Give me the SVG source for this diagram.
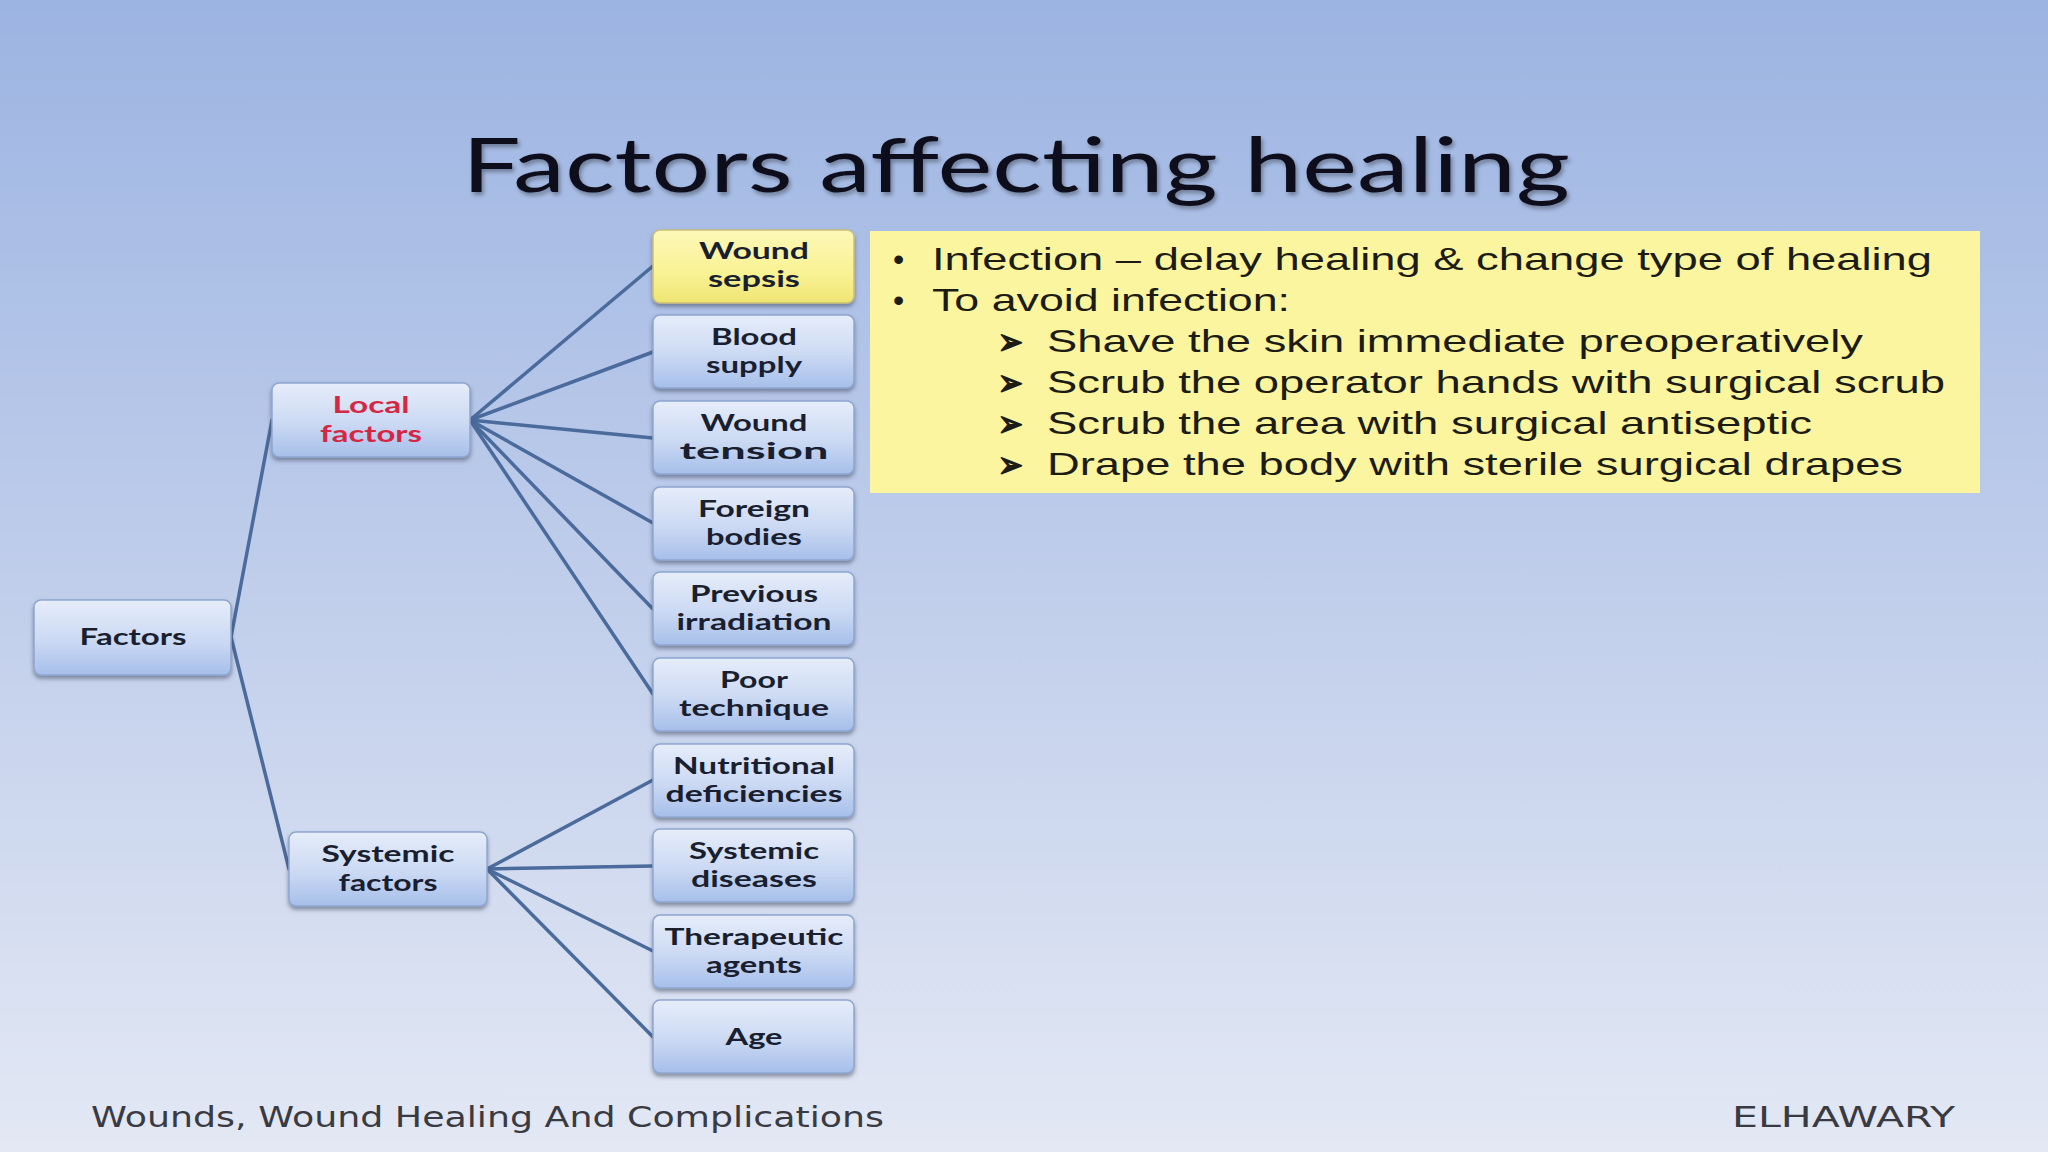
<svg xmlns="http://www.w3.org/2000/svg" width="2048" height="1152" viewBox="0 0 2048 1152">
  <defs>
    <linearGradient id="bg" x1="0" y1="0" x2="0" y2="1">
      <stop offset="0" stop-color="#9cb4e2"/>
      <stop offset="0.45" stop-color="#bccbea"/>
      <stop offset="1" stop-color="#e3e8f4"/>
    </linearGradient>
    <linearGradient id="blueNode" x1="0" y1="0" x2="0" y2="1">
      <stop offset="0" stop-color="#e6edfa"/>
      <stop offset="0.55" stop-color="#cbd9f3"/>
      <stop offset="1" stop-color="#a6bfea"/>
    </linearGradient>
    <linearGradient id="yellowNode" x1="0" y1="0" x2="0" y2="1">
      <stop offset="0" stop-color="#fcf8b8"/>
      <stop offset="0.6" stop-color="#f9f294"/>
      <stop offset="1" stop-color="#efe472"/>
    </linearGradient>
    <filter id="shadow" x="-10%" y="-10%" width="120%" height="130%">
      <feDropShadow dx="0" dy="3" stdDeviation="2" flood-color="#3c4660" flood-opacity="0.55"/>
    </filter>
    <filter id="tshadow" x="-5%" y="-20%" width="110%" height="140%">
      <feDropShadow dx="2" dy="3" stdDeviation="2" flood-color="#000000" flood-opacity="0.35"/>
    </filter>
  </defs>
  <style>
    .node rect { stroke: #8ea6cf; stroke-width: 1.5; filter: url(#shadow); }
    .blue rect { fill: url(#blueNode); }
    .yel rect { fill: url(#yellowNode); stroke: #c9c07a; }
    .node text { font-family: Lato, "Open Sans", "Liberation Sans", sans-serif; font-weight: bold; font-size: 22px; fill: #1a1f30; text-anchor: middle; }
    .node text.red { fill: #d52744; }
    .conn line { stroke: #4a6b9b; stroke-width: 3.5; stroke-linecap: round; }
    .body { font-family: "Liberation Sans", Arial, sans-serif; font-size: 32px; fill: #1c1c14; }
    .arrow { font-family: "DejaVu Sans", sans-serif; font-size: 36px; fill: #1c1c14; stroke: #1c1c14; stroke-width: 1.6; stroke-linejoin: round; }
    .foot { font-family: "DejaVu Sans", sans-serif; font-size: 29px; fill: #3a3b42; }
  </style>

  <rect x="0" y="0" width="2048" height="1152" fill="url(#bg)"/>

  <text id="title" x="462" y="192" font-family="Lato, 'Open Sans', 'Liberation Sans', sans-serif" font-size="75" fill="#0e0f1c" textLength="1108" lengthAdjust="spacingAndGlyphs" filter="url(#tshadow)">Factors affecting healing</text>

  <g id="connectors" class="conn">
    <line x1="231" y1="637" x2="272" y2="420"/>
    <line x1="231" y1="637" x2="289" y2="869"/>
    <line x1="470" y1="420" x2="653" y2="266"/>
    <line x1="470" y1="420" x2="653" y2="352"/>
    <line x1="470" y1="420" x2="653" y2="438"/>
    <line x1="470" y1="420" x2="653" y2="523"/>
    <line x1="470" y1="420" x2="653" y2="609"/>
    <line x1="470" y1="420" x2="653" y2="694"/>
    <line x1="487" y1="869" x2="653" y2="780"/>
    <line x1="487" y1="869" x2="653" y2="866"/>
    <line x1="487" y1="869" x2="653" y2="951"/>
    <line x1="487" y1="869" x2="653" y2="1037"/>
  </g>

  <g id="node-factors" class="node blue">
    <rect x="34" y="600" width="197" height="75" rx="7"/>
    <text x="133" y="645" textLength="107" lengthAdjust="spacingAndGlyphs">Factors</text>
  </g>
  <g id="node-local" class="node blue">
    <rect x="272" y="383" width="198" height="74" rx="7"/>
    <text class="red" x="371" y="413" textLength="77" lengthAdjust="spacingAndGlyphs">Local</text>
    <text class="red" x="371" y="442" textLength="102" lengthAdjust="spacingAndGlyphs">factors</text>
  </g>
  <g id="node-systemic" class="node blue">
    <rect x="289" y="832" width="198" height="74" rx="7"/>
    <text x="388" y="862" textLength="133" lengthAdjust="spacingAndGlyphs">Systemic</text>
    <text x="388" y="891" textLength="99" lengthAdjust="spacingAndGlyphs">factors</text>
  </g>

  <g id="node-wound-sepsis" class="node yel">
    <rect x="653" y="230" width="201" height="73" rx="7"/>
    <text x="754" y="259" textLength="110" lengthAdjust="spacingAndGlyphs">Wound</text>
    <text x="754" y="287" textLength="92" lengthAdjust="spacingAndGlyphs">sepsis</text>
  </g>
  <g id="node-blood-supply" class="node blue">
    <rect x="653" y="315" width="201" height="73" rx="7"/>
    <text x="754" y="345" textLength="86" lengthAdjust="spacingAndGlyphs">Blood</text>
    <text x="754" y="373" textLength="96" lengthAdjust="spacingAndGlyphs">supply</text>
  </g>
  <g id="node-wound-tension" class="node blue">
    <rect x="653" y="401" width="201" height="73" rx="7"/>
    <text x="754" y="431" textLength="107" lengthAdjust="spacingAndGlyphs">Wound</text>
    <text x="754" y="459" textLength="149" lengthAdjust="spacingAndGlyphs">tension</text>
  </g>
  <g id="node-foreign-bodies" class="node blue">
    <rect x="653" y="487" width="201" height="73" rx="7"/>
    <text x="754" y="517" textLength="112" lengthAdjust="spacingAndGlyphs">Foreign</text>
    <text x="754" y="545" textLength="96" lengthAdjust="spacingAndGlyphs">bodies</text>
  </g>
  <g id="node-previous-irradiation" class="node blue">
    <rect x="653" y="572" width="201" height="73" rx="7"/>
    <text x="754" y="602" textLength="128" lengthAdjust="spacingAndGlyphs">Previous</text>
    <text x="754" y="630" textLength="155" lengthAdjust="spacingAndGlyphs">irradiation</text>
  </g>
  <g id="node-poor-technique" class="node blue">
    <rect x="653" y="658" width="201" height="73" rx="7"/>
    <text x="754" y="688" textLength="68" lengthAdjust="spacingAndGlyphs">Poor</text>
    <text x="754" y="716" textLength="150" lengthAdjust="spacingAndGlyphs">technique</text>
  </g>
  <g id="node-nutritional" class="node blue">
    <rect x="653" y="744" width="201" height="73" rx="7"/>
    <text x="754" y="774" textLength="162" lengthAdjust="spacingAndGlyphs">Nutritional</text>
    <text x="754" y="802" textLength="177" lengthAdjust="spacingAndGlyphs">deficiencies</text>
  </g>
  <g id="node-systemic-diseases" class="node blue">
    <rect x="653" y="829" width="201" height="73" rx="7"/>
    <text x="754" y="859" textLength="130" lengthAdjust="spacingAndGlyphs">Systemic</text>
    <text x="754" y="887" textLength="126" lengthAdjust="spacingAndGlyphs">diseases</text>
  </g>
  <g id="node-therapeutic" class="node blue">
    <rect x="653" y="915" width="201" height="73" rx="7"/>
    <text x="754" y="945" textLength="179" lengthAdjust="spacingAndGlyphs">Therapeutic</text>
    <text x="754" y="973" textLength="96" lengthAdjust="spacingAndGlyphs">agents</text>
  </g>
  <g id="node-age" class="node blue">
    <rect x="653" y="1000" width="201" height="73" rx="7"/>
    <text x="754" y="1045" textLength="57" lengthAdjust="spacingAndGlyphs">Age</text>
  </g>

  <g id="infection-note">
    <rect x="870" y="231" width="1110" height="262" fill="#faf59e"/>
    <text class="body" x="893" y="270">•</text>
    <text class="body" x="932" y="270" textLength="1000" lengthAdjust="spacingAndGlyphs">Infection – delay healing &amp; change type of healing</text>
    <text class="body" x="893" y="311">•</text>
    <text class="body" x="932" y="311" textLength="358" lengthAdjust="spacingAndGlyphs">To avoid infection:</text>
    <text class="arrow" x="998" y="354" textLength="25" lengthAdjust="spacingAndGlyphs">➢</text>
    <text class="body" x="1047" y="352" textLength="816" lengthAdjust="spacingAndGlyphs">Shave the skin immediate preoperatively</text>
    <text class="arrow" x="998" y="395" textLength="25" lengthAdjust="spacingAndGlyphs">➢</text>
    <text class="body" x="1047" y="393" textLength="898" lengthAdjust="spacingAndGlyphs">Scrub the operator hands with surgical scrub</text>
    <text class="arrow" x="998" y="436" textLength="25" lengthAdjust="spacingAndGlyphs">➢</text>
    <text class="body" x="1047" y="434" textLength="765" lengthAdjust="spacingAndGlyphs">Scrub the area with surgical antiseptic</text>
    <text class="arrow" x="998" y="477" textLength="25" lengthAdjust="spacingAndGlyphs">➢</text>
    <text class="body" x="1047" y="475" textLength="856" lengthAdjust="spacingAndGlyphs">Drape the body with sterile surgical drapes</text>
  </g>

  <g id="footer">
    <text class="foot" x="91" y="1127" textLength="793" lengthAdjust="spacingAndGlyphs">Wounds, Wound Healing And Complications</text>
    <text class="foot" x="1732" y="1127" textLength="223" lengthAdjust="spacingAndGlyphs">ELHAWARY</text>
  </g>
</svg>
